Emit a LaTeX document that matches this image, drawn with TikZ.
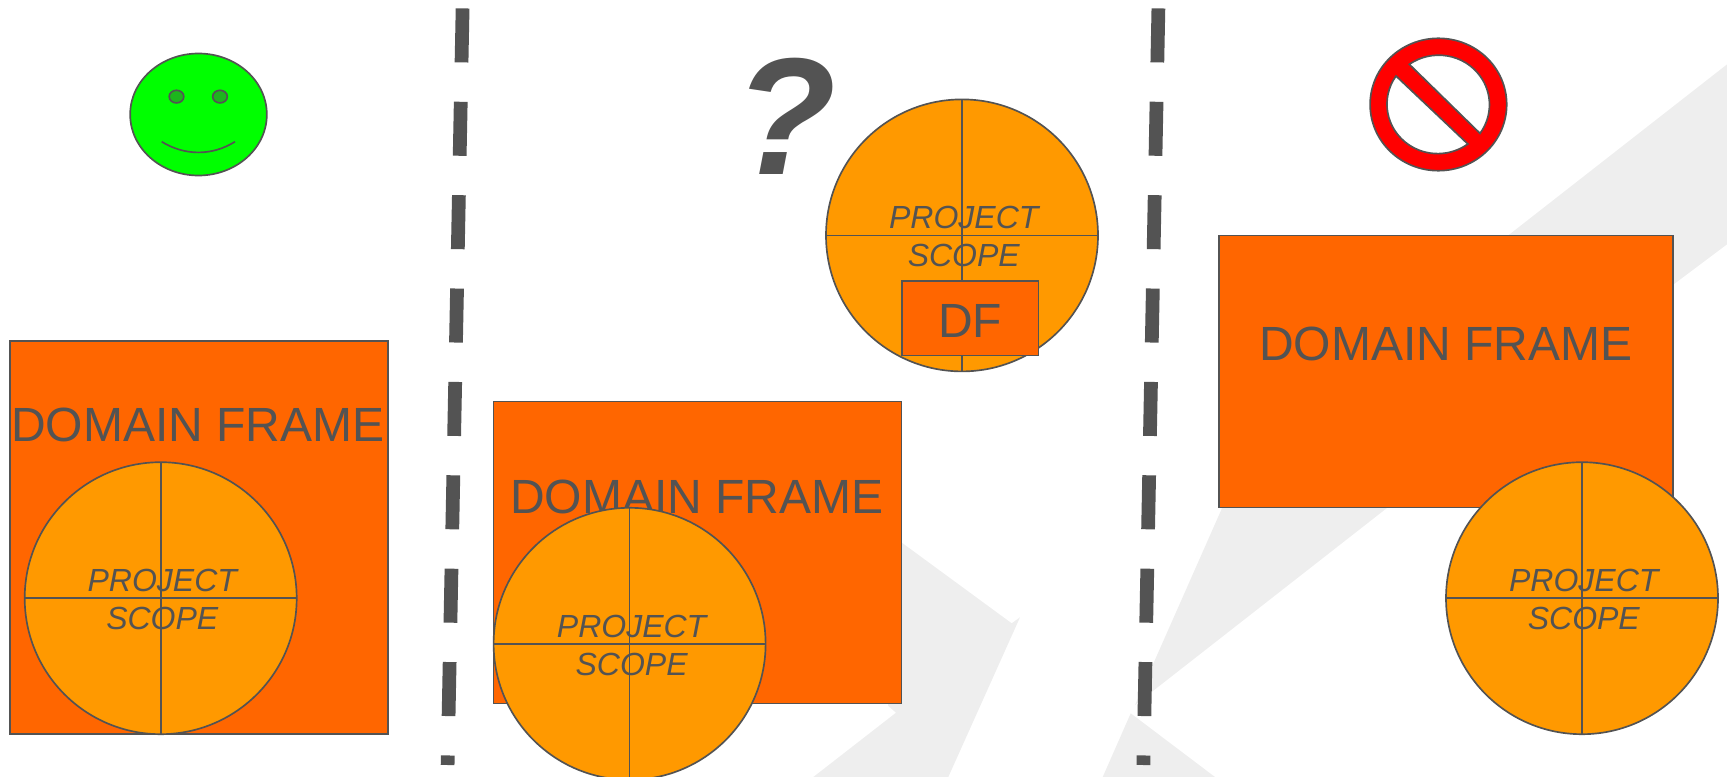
\documentclass[tikz,border=0pt]{standalone}
\usepackage{fontspec}
\setmainfont{Liberation Sans}
\usepackage{xcolor}
\usetikzlibrary{shapes.geometric}
\definecolor{inkgrey}{HTML}{535353}
\definecolor{framefill}{HTML}{FF6600}
\definecolor{scopefill}{HTML}{FF9900}
\definecolor{markgrey}{HTML}{EEEEEE}
\definecolor{eyefill}{HTML}{1DB51D}
\tikzset{
    framebox/.style={draw=inkgrey, line width=1.25pt, fill=framefill, rectangle, inner sep=0pt, outer sep=0pt},
    scopedisc/.style={draw=inkgrey, line width=1.25pt, fill=scopefill, circle, minimum size=204pt, inner sep=0pt, outer sep=0pt},
    bigtext/.style={text=inkgrey, font=\fontsize{36pt}{40pt}\selectfont, inner sep=0pt, anchor=base},
    scopetext/.style={text=inkgrey, font=\fontsize{24pt}{28.5pt}\selectfont\itshape, align=center, inner sep=0pt},
    thinline/.style={draw=inkgrey, line width=1.25pt},
    divider/.style={draw=inkgrey, line width=10.3pt, dash pattern=on 40.5pt off 29.55pt},
    eyedot/.style={draw=inkgrey, line width=1.25pt, fill=eyefill, ellipse, minimum width=11pt, minimum height=9.5pt, inner sep=0pt}
}
\begin{document}
\begin{tikzpicture}[x=0.75pt, y=-0.75pt]
    \useasboundingbox (0, 0) rectangle (1727, 777);
    \clip (0, 0) rectangle (1727, 777);
    % grey marks behind everything
    \fill[markgrey] (860, 512) -- (1011.7, 623.3) -- (1020, 617.3) -- (948.3, 777) -- (813.3, 777) -- (896, 712.7) -- (888.3, 706) -- cycle;
    \fill[markgrey] (1135, 705) -- (1221, 510.4) -- (1225, 500) -- (1500, 241.8) -- (1727, 64.4) -- (1727, 244.3) -- (1660, 294.6) -- (1400, 497.8) -- cycle;
    \fill[markgrey] (1130.7, 713.3) -- (1215, 777) -- (1102.7, 777) -- cycle;
    % dividers
    \coordinate (diva) at (462.6, 8.4);
    \coordinate (divb) at (447.6, 765);
    \coordinate (divc) at (1158.4, 8.4);
    \coordinate (divd) at (1143.4, 765);
    \draw[divider] (diva) -- (divb);
    \draw[divider] (divc) -- (divd);
    % smiley
    \node[draw=inkgrey, line width=1.25pt, fill=green, ellipse, minimum width=102.5pt, minimum height=91.5pt, inner sep=0pt] (face) at (198.5, 114.5) {};
    \node[eyedot] (eyel) at (176.5, 96.6) {};
    \node[eyedot] (eyer) at (220, 96.6) {};
    \coordinate (smilel) at (161.7, 141.7);
    \coordinate (smiler) at (235, 141.7);
    \draw[thinline] (smilel) .. controls (185, 156) and (212, 156) .. (smiler);
    % question mark
    \node[text=inkgrey, font=\fontsize{125pt}{125pt}\selectfont\bfseries\itshape, inner sep=0pt, anchor=base] (quest) at (785.5, 175) {?};
    % no entry sign
    \fill[red, draw=inkgrey, line width=1.25pt, even odd rule]
        (1438.4, 104.5) ellipse (68.3 and 66.2)
        (1409.3, 64.3) arc[start angle=125.3, end angle=-35.5, x radius=38.1pt, y radius=37.1pt] -- cycle
        (1396, 76) arc[start angle=145.3, end angle=306.3, x radius=38.1pt, y radius=37.1pt] -- cycle;
    % left panel
    \node[framebox, minimum width=283.5pt, minimum height=294.5pt] (fra) at (198.9, 537.5) {};
    \node[bigtext] (fta) at (198, 441) {DOMAIN FRAME};
    \node[scopedisc] (sca) at (160.7, 598.2) {};
    \draw[thinline] (sca.north) -- (sca.south);
    \draw[thinline] (sca.west) -- (sca.east);
    \node[scopetext] (sta) at (162.3, 599.5) {PROJECT\\SCOPE};
    % middle panel
    \node[framebox, minimum width=306.2pt, minimum height=226.5pt] (frb) at (697.5, 552.6) {};
    \node[bigtext] (ftb) at (697, 513) {DOMAIN FRAME};
    \node[scopedisc] (scb) at (629.6, 643.8) {};
    \draw[thinline] (scb.north) -- (scb.south);
    \draw[thinline] (scb.west) -- (scb.east);
    \node[scopetext] (stb) at (631.6, 645.1) {PROJECT\\SCOPE};
    % question panel
    \node[scopedisc] (scc) at (962, 235.4) {};
    \draw[thinline] (scc.north) -- (scc.south);
    \draw[thinline] (scc.west) -- (scc.east);
    \node[scopetext] (stc) at (963.8, 236.5) {PROJECT\\SCOPE};
    \node[framebox, minimum width=102.5pt, minimum height=56pt] (frc) at (970, 318.2) {};
    \node[bigtext] (ftc) at (970, 337) {DF};
    % right panel
    \node[framebox, minimum width=340.6pt, minimum height=204pt] (frd) at (1446, 371.4) {};
    \node[bigtext] (ftd) at (1445.8, 360.8) {DOMAIN FRAME};
    \node[scopedisc] (scd) at (1582, 598.2) {};
    \draw[thinline] (scd.north) -- (scd.south);
    \draw[thinline] (scd.west) -- (scd.east);
    \node[scopetext] (std) at (1583.8, 599.5) {PROJECT\\SCOPE};
\end{tikzpicture}
\end{document}
